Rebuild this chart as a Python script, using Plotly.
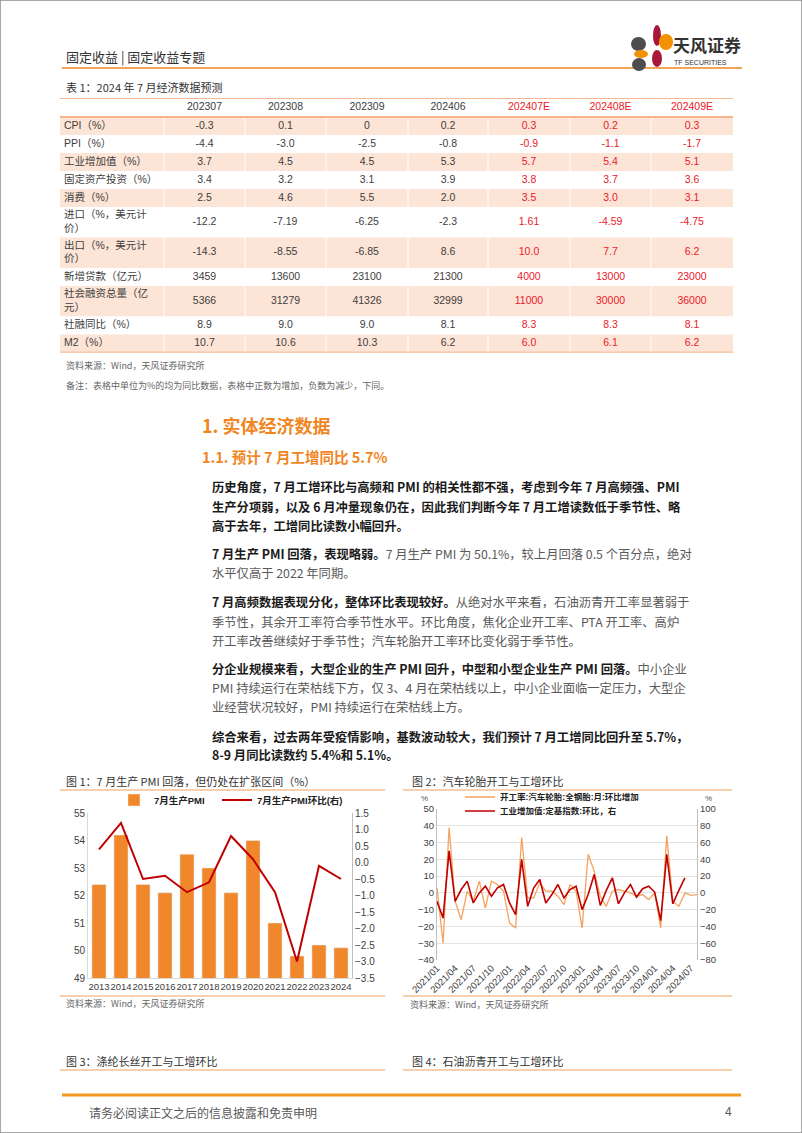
import plotly.graph_objects as go

W, H = 802, 1133

# 表1：2024年7月经济数据预测
tbl_head = ["202307", "202308", "202309", "202406", "202407E", "202408E", "202409E"]
tbl_items = ["CPI（%）", "PPI（%）", "工业增加值（%）", "固定资产投资（%）", "消费（%）",
             "进口（%，美元计<br>价）", "出口（%，美元计<br>价）", "新增贷款（亿元）",
             "社会融资总量（亿<br>元）", "社融同比（%）", "M2（%）"]
col_202307 = ["-0.3", "-4.4", "3.7", "3.4", "2.5", "-12.2", "-14.3", "3459", "5366", "8.9", "10.7"]
col_202308 = ["0.1", "-3.0", "4.5", "3.2", "4.6", "-7.19", "-8.55", "13600", "31279", "9.0", "10.6"]
col_202309 = ["0", "-2.5", "4.5", "3.1", "5.5", "-6.25", "-6.85", "23100", "41326", "9.0", "10.3"]
col_202406 = ["0.2", "-0.8", "5.3", "3.9", "2.0", "-2.3", "8.6", "21300", "32999", "8.1", "6.2"]
col_202407E = ["0.3", "-0.9", "5.7", "3.8", "3.5", "1.61", "10.0", "4000", "11000", "8.3", "6.0"]
col_202408E = ["0.2", "-1.1", "5.4", "3.7", "3.0", "-4.59", "7.7", "13000", "30000", "8.3", "6.1"]
col_202409E = ["0.3", "-1.7", "5.1", "3.6", "3.1", "-4.75", "6.2", "23000", "36000", "8.1", "6.2"]

# 图1：7月生产PMI
years = ["2013", "2014", "2015", "2016", "2017", "2018", "2019", "2020", "2021", "2022", "2023", "2024"]
pmi_prod_jul = [52.4, 54.2, 52.4, 52.1, 53.5, 53.0, 52.1, 54.0, 51.0, 49.8, 50.2, 50.1]
pmi_prod_mom = [0.4, 1.2, -0.5, -0.4, -0.9, -0.6, 0.8, 0.1, -0.9, -3.0, -0.1, -0.5]

# 图2：汽车轮胎开工与工增环比
months = ["2021/01", "2021/02", "2021/03", "2021/04", "2021/05", "2021/06", "2021/07", "2021/08",
          "2021/09", "2021/10", "2021/11", "2021/12", "2022/01", "2022/02", "2022/03", "2022/04",
          "2022/05", "2022/06", "2022/07", "2022/08", "2022/09", "2022/10", "2022/11", "2022/12",
          "2023/01", "2023/02", "2023/03", "2023/04", "2023/05", "2023/06", "2023/07", "2023/08",
          "2023/09", "2023/10", "2023/11", "2023/12", "2024/01", "2024/02", "2024/03", "2024/04",
          "2024/05", "2024/06", "2024/07", "2024/08"]
tyre_rate_mom = [3, -30, 39, -5, -16, 1, -5, 7, -9, 7, 5, 1, -18, -21, 33, -3, -3, 6, 1, 1, -2, -7,
                 5, 1, -21, 23, 13, -2, -8, 1, 2, 1, 0, -2, -1, -4, 0, -21, 34, -5, -8, 0, -1.5, -1]
iva_mom = [-10, -30, 50, -10, 4, 14, -12, 0, 8, -4, 6, 10, -12, -26, 40, -16, 6, 16, -12, -2, 10, -6,
           4, 8, -20, -2, 22, -15, 3, 18, -13, 0, 10, -5, 5, 8, 1, -33, 46, -13, 3, 18]
x_ticks = months[::3]


def fx(x):
    return x / W


def fy(y):
    return 1 - y / H


FONT = "Liberation Sans, Noto Sans CJK SC, sans-serif"
CJK = "Noto Sans CJK SC, sans-serif"
ORANGE = "#F0861F"
LINE_OR = "#F4A25E"
RED = "#C00000"
TXT = "#404040"
RED_TXT = "#E8202A"
PEACH = "#FCE4D6"

fig = go.Figure()

# ---- 表格（画在一组隐藏坐标轴上） ----
colw = [104, 81, 81, 82, 80, 82, 81, 82]
edges = [sum(colw[:i]) for i in range(len(colw) + 1)]
centers = [(edges[i] + edges[i + 1]) / 2 for i in range(len(colw))]
head_h = 19
row_h = [18 if "<br>" not in t else 30.5 for t in tbl_items]
row_top = [head_h + sum(row_h[:i]) for i in range(len(row_h))]
row_mid = [row_top[i] + row_h[i] / 2 for i in range(len(row_h))]
tbl_total = head_h + sum(row_h)
row_fill = [PEACH if i % 2 == 0 else "white" for i in range(len(tbl_items))]

fig.add_trace(go.Bar(orientation="h", y=row_mid, x=[edges[-1]] * len(row_mid), base=0, width=row_h,
                     marker=dict(color=row_fill, line_width=0), xaxis="x3", yaxis="y5",
                     showlegend=False, hoverinfo="skip"))
fig.add_trace(go.Scatter(x=[4] * len(tbl_items), y=row_mid, mode="text", text=tbl_items,
                         textposition="middle right", textfont=dict(family=FONT, size=10.5, color=TXT),
                         xaxis="x3", yaxis="y5", showlegend=False, hoverinfo="skip", cliponaxis=False))
tbl_cols = [col_202307, col_202308, col_202309, col_202406, col_202407E, col_202408E, col_202409E]
for j, (h, vals) in enumerate(zip(tbl_head, tbl_cols)):
    c = RED_TXT if h.endswith("E") else TXT
    fig.add_trace(go.Scatter(x=[centers[j + 1]] * (len(vals) + 1), y=[head_h / 2] + row_mid,
                             mode="text", text=[h] + vals, textposition="middle center",
                             textfont=dict(family=FONT, size=10.5, color=c), xaxis="x3", yaxis="y5",
                             showlegend=False, hoverinfo="skip", cliponaxis=False))

# ---- 图1 ----
fig.add_trace(go.Bar(x=years, y=pmi_prod_jul, name="7月生产PMI", marker_color="#F0872B",
                     xaxis="x", yaxis="y", legend="legend", hoverinfo="x+y"))
fig.add_trace(go.Scatter(x=years, y=pmi_prod_mom, name="7月生产PMI环比(右)", mode="lines",
                         line=dict(color=RED, width=2), xaxis="x", yaxis="y2", legend="legend2"))

# ---- 图2 ----
fig.add_trace(go.Scatter(x=months, y=tyre_rate_mom, name="开工率:汽车轮胎:全钢胎:月:环比增加",
                         mode="lines", line=dict(color=LINE_OR, width=1.3),
                         xaxis="x2", yaxis="y3", legend="legend3"))
fig.add_trace(go.Scatter(x=months[:len(iva_mom)], y=iva_mom, name="工业增加值:定基指数:环比，右",
                         mode="lines", line=dict(color=RED, width=1.6),
                         xaxis="x2", yaxis="y4", legend="legend4"))

shapes = [
    dict(type="rect", xref="paper", yref="paper", x0=0, x1=1, y0=0, y1=1,
         line=dict(color="#8C8C8C", width=1.5)),
    dict(type="line", xref="paper", yref="paper", x0=fx(62), x1=fx(742), y0=fy(68), y1=fy(68),
         line=dict(color=ORANGE, width=1.5)),
    dict(type="line", xref="paper", yref="paper", x0=fx(62), x1=fx(741), y0=fy(1095), y1=fy(1095),
         line=dict(color="#F29A1F", width=3)),
]
for yv in (0, head_h, tbl_total):
    shapes.append(dict(type="line", xref="x3", yref="y5", x0=edges[0], x1=edges[-1],
                       y0=yv, y1=yv, line=dict(color="#F2A06A", width=1.5)))
for xv in edges[1:-1]:
    shapes.append(dict(type="line", xref="x3", yref="y5", x0=xv, x1=xv, y0=head_h + 1,
                       y1=tbl_total - 1, line=dict(color="white", width=1)))
for x0, x1 in ((60, 385), (403, 732)):
    for yv in (790, 996, 1070):
        shapes.append(dict(type="line", xref="paper", yref="paper", x0=fx(x0), x1=fx(x1),
                           y0=fy(yv), y1=fy(yv), line=dict(color=LINE_OR, width=1.2)))

# logo
for (a, b, c, d, col) in ((653, 661, 25, 46, "#A8173A"), (659, 673, 34, 50, "#F39200"),
                          (631, 646, 37, 51, "#4D4D4D"), (634, 648, 50, 58, "#F39200"),
                          (652, 662, 50, 67, "#A8173A"), (632, 646, 58, 71, "#4D4D4D")):
    shapes.append(dict(type="circle", xref="paper", yref="paper", x0=fx(a), x1=fx(b),
                       y0=fy(d), y1=fy(c), fillcolor=col, line=dict(width=0)))

anns = []


def ann(x, y, text, size, color=TXT, family=CJK, xanchor="left"):
    anns.append(dict(x=fx(x), y=fy(y), xref="paper", yref="paper", text=text, showarrow=False,
                     xanchor=xanchor, yanchor="middle", align="left",
                     font=dict(family=family, size=size, color=color)))


ann(64, 57, "固定收益 | 固定收益专题", 13, "#333333")
ann(671, 45, "<b>天风证券</b>", 17, "#333333")
ann(672, 62, "TF SECURITIES", 7, "#333333", FONT)
ann(64, 87, "表 1：2024 年 7 月经济数据预测", 11, "#333333")
ann(64, 366, "资料来源：Wind，天风证券研究所", 9, "#666666")
ann(64, 385, "备注：表格中单位为%的均为同比数据，表格中正数为增加，负数为减少，下同。", 9, "#666666")
ann(200, 425, "<b>1. 实体经济数据</b>", 18, ORANGE)
ann(200, 456, "<b>1.1. 预计 7 月工增同比 5.7%</b>", 14.5, ORANGE)

G = "#595959"


def B(s):
    return "<b><span style='color:#1A1A1A'>" + s + "</span></b>"


body = [
    (487, B("历史角度，7 月工增环比与高频和 PMI 的相关性都不强，考虑到今年 7 月高频强、PMI")),
    (507, B("生产分项弱，以及 6 月冲量现象仍在，因此我们判断今年 7 月工增读数低于季节性、略")),
    (526, B("高于去年，工增同比读数小幅回升。")),
    (554, B("7 月生产 PMI 回落，表现略弱。") + "7 月生产 PMI 为 50.1%，较上月回落 0.5 个百分点，绝对"),
    (573, "水平仅高于 2022 年同期。"),
    (602, B("7 月高频数据表现分化，整体环比表现较好。") + "从绝对水平来看，石油沥青开工率显著弱于"),
    (622, "季节性，其余开工率符合季节性水平。环比角度，焦化企业开工率、PTA 开工率、高炉"),
    (641, "开工率改善继续好于季节性；汽车轮胎开工率环比变化弱于季节性。"),
    (669, B("分企业规模来看，大型企业的生产 PMI 回升，中型和小型企业生产 PMI 回落。") + "中小企业"),
    (688, "PMI 持续运行在荣枯线下方，仅 3、4 月在荣枯线以上，中小企业面临一定压力，大型企"),
    (707, "业经营状况较好，PMI 持续运行在荣枯线上方。"),
    (737, B("综合来看，过去两年受疫情影响，基数波动较大，我们预计 7 月工增同比回升至 5.7%，")),
    (755, B("8-9 月同比读数约 5.4%和 5.1%。")),
]
for yv, t in body:
    ann(210, yv, t, 12.3, G)

ann(64, 781, "图 1：7 月生产 PMI 回落，但仍处在扩张区间（%）", 11, "#333333")
ann(410, 781, "图 2：汽车轮胎开工与工增环比", 11, "#333333")
ann(64, 1003, "资料来源：Wind，天风证券研究所", 9, "#666666")
ann(408, 1004, "资料来源：Wind，天风证券研究所", 9, "#666666")
ann(424, 798, "%", 8, "#555555", FONT, "center")
ann(708, 798, "%", 8, "#555555", FONT, "center")
ann(64, 1061, "图 3：涤纶长丝开工与工增环比", 11, "#333333")
ann(410, 1061, "图 4：石油沥青开工与工增环比", 11, "#333333")
ann(87, 1112, "请务必阅读正文之后的信息披露和免责申明", 12, "#595959")
ann(734, 1112, "4", 12, "#595959", FONT, "right")

ax_common = dict(showgrid=False, zeroline=False, ticks="", tickfont=dict(size=10, color=TXT))


def leg(x, y, size):
    return dict(x=fx(x), y=fy(y), xanchor="left", yanchor="middle", orientation="h",
                bgcolor="rgba(0,0,0,0)", itemwidth=30,
                font=dict(family=FONT, size=size, color="#222222", weight="bold"))


fig.update_layout(
    width=W, height=H, margin=dict(l=0, r=0, t=0, b=0, autoexpand=False),
    paper_bgcolor="white", plot_bgcolor="white",
    font=dict(family=FONT, size=10, color=TXT),
    bargap=0.36,
    shapes=shapes, annotations=anns,
    xaxis=dict(domain=[fx(88), fx(352)], anchor="y", type="category", showline=True,
               linecolor="#D9D9D9", showgrid=False, ticks="", tickangle=0,
               tickfont=dict(size=9.5, color=TXT)),
    yaxis=dict(domain=[fy(978), fy(813)], anchor="x", range=[49, 55], dtick=1, showline=True,
               linecolor="#D9D9D9", **ax_common),
    yaxis2=dict(overlaying="y", side="right", anchor="x", range=[-3.5, 1.5], dtick=0.5,
                tickformat=".1f", showline=True, linecolor="#BFBFBF", **ax_common),
    xaxis2=dict(domain=[fx(437), fx(697)], anchor="y3", type="category", range=[0, 43],
                tickvals=x_ticks, tickangle=-45, showgrid=False, showline=False, ticks="",
                tickfont=dict(size=9.5, color=TXT)),
    yaxis3=dict(domain=[fy(960), fy(809)], anchor="x2", range=[-40, 50], dtick=10,
                showgrid=True, gridcolor="#E3E3E3", zeroline=False, showline=True,
                linecolor="#BFBFBF", ticks="", tickfont=dict(size=9.5, color=TXT)),
    yaxis4=dict(overlaying="y3", side="right", anchor="x2", range=[-80, 100], dtick=20,
                showline=True, linecolor="#BFBFBF", showgrid=False, zeroline=False, ticks="",
                tickfont=dict(size=9.5, color=TXT)),
    xaxis3=dict(domain=[fx(60), fx(733)], anchor="y5", range=[0, edges[-1]], visible=False,
                fixedrange=True),
    yaxis5=dict(domain=[fy(98 + tbl_total), fy(98)], anchor="x3", range=[tbl_total, 0],
                visible=False, fixedrange=True),
    legend=leg(114, 800, 9.5),
    legend2=leg(217, 800, 9.5),
    legend3=leg(460, 797, 8.5),
    legend4=leg(460, 811, 8.5),
)

fig.write_html("out.html", config={"displayModeBar": False},
               post_script="document.body.style.margin='0';document.body.style.overflow='hidden';")
